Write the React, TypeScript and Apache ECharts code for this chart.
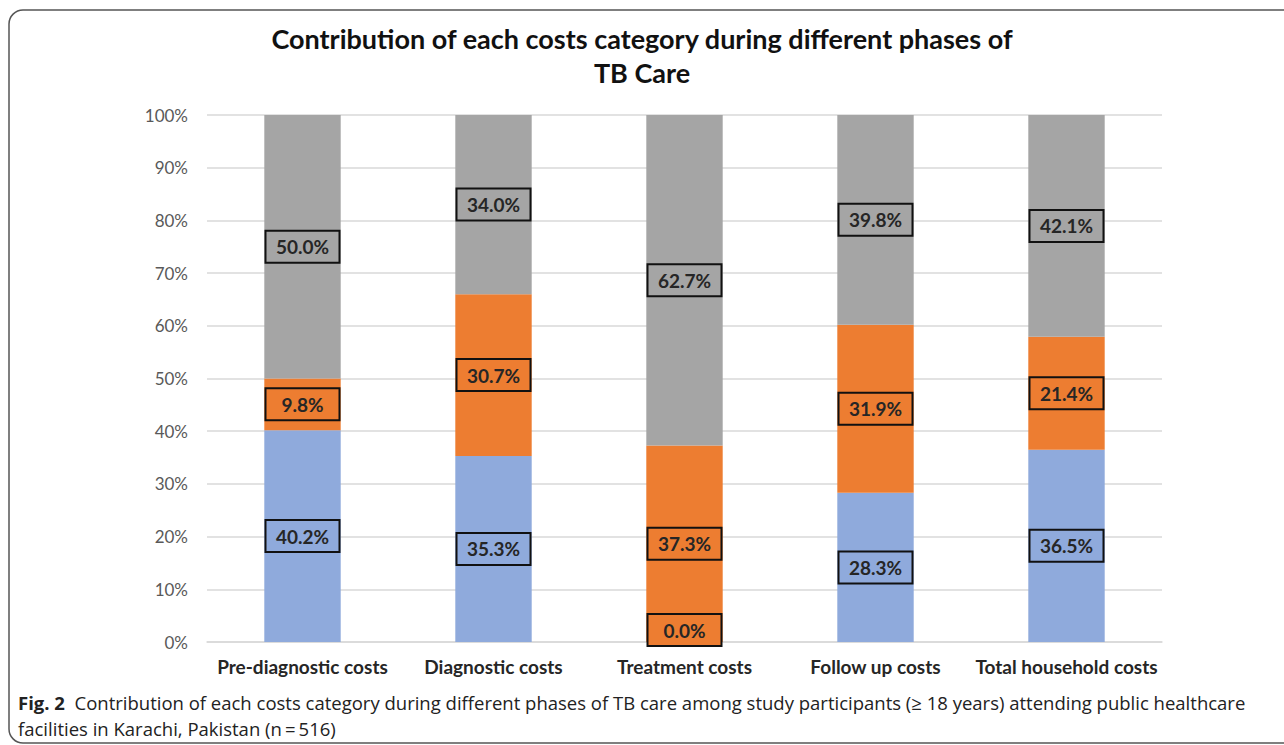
import React, { useEffect, useRef } from "react";
import * as echarts from "echarts";

const categories = [
  "Pre-diagnostic costs",
  "Diagnostic costs",
  "Treatment costs",
  "Follow up costs",
  "Total household costs",
];
const blueValues = [40.2, 35.3, 0.0, 28.3, 36.5];
const orangeValues = [9.8, 30.7, 37.3, 31.9, 21.4];
const grayValues = [50.0, 34.0, 62.7, 39.8, 42.1];
const yTicks = [0, 10, 20, 30, 40, 50, 60, 70, 80, 90, 100];

const titleText = "Contribution of each costs category during different phases of\nTB Care";
const captionLine1 =
  "Contribution of each costs category during different phases of TB care among study participants (\u2265 18 years) attending public healthcare";
const captionLine2 = "facilities in Karachi, Pakistan (n\u2009=\u2009516)";

const COLORS = { blue: "#8FAADC", orange: "#ED7D31", gray: "#A5A5A5" };

function makeLabel(color: string) {
  return {
    show: true,
    position: "inside",
    formatter: (p: any) => Number(p.value).toFixed(1) + "%",
    fontFamily: "Lato",
    fontWeight: "bold",
    fontSize: 19,
    color: "#262626",
    backgroundColor: color,
    borderColor: "#111",
    borderWidth: 2,
    width: 66,
    height: 22,
    lineHeight: 22,
    align: "center",
    verticalAlign: "middle",
    padding: [4, 3],
  };
}

export default function App() {
  const ref = useRef<HTMLDivElement>(null);
  useEffect(() => {
    if (!ref.current) return;
    const chart = echarts.init(ref.current, undefined, { renderer: "svg" });
    const mkSeries = (name: string, values: number[], color: string) => ({
      name,
      type: "bar",
      stack: "total",
      barWidth: "40%",
      itemStyle: { color },
      label: makeLabel(color),
      data: values.map((v) =>
        v === 0
          ? { value: v, label: { offset: [0, -12], backgroundColor: COLORS.orange } }
          : v
      ),
    });
    chart.setOption({
      animation: false,
      backgroundColor: "#fff",
      title: {
        text: titleText,
        left: "center",
        top: 16,
        textStyle: {
          fontFamily: "Lato",
          fontWeight: "bold",
          fontSize: 27,
          lineHeight: 34,
          color: "#111",
        },
      },
      grid: { left: 207, right: 122, top: 115, bottom: 103 },
      xAxis: {
        type: "category",
        data: categories,
        axisTick: { show: false },
        axisLine: { lineStyle: { color: "#D9D9D9", width: 1.5 } },
        axisLabel: {
          fontFamily: "Lato",
          fontWeight: "bold",
          fontSize: 19,
          color: "#262626",
          margin: 15,
          interval: 0,
        },
      },
      yAxis: {
        type: "value",
        min: yTicks[0],
        max: yTicks[yTicks.length - 1],
        interval: 10,
        axisLine: { show: false },
        axisTick: { show: false },
        splitLine: { lineStyle: { color: "#D9D9D9", width: 1.5 } },
        axisLabel: {
          fontFamily: "Lato",
          fontSize: 17,
          color: "#595959",
          margin: 19,
          formatter: (v: number) => v + "%",
        },
      },
      series: [
        mkSeries("Cost category 1", blueValues, COLORS.blue),
        mkSeries("Cost category 2", orangeValues, COLORS.orange),
        mkSeries("Cost category 3", grayValues, COLORS.gray),
      ],
      graphic: [
        {
          type: "rect",
          shape: { x: 9, y: 10, width: 1320, height: 733, r: 14 },
          style: { fill: "none", stroke: "#555", lineWidth: 1.5 },
          silent: true,
        },
        {
          type: "text",
          left: 18,
          top: 693,
          style: {
            text: "{b|Fig. 2}  " + captionLine1,
            font: "18.5px 'Open Sans'",
            fill: "#222",
            rich: {
              b: { fontFamily: "Open Sans", fontWeight: "bold", fontSize: 18.5, fill: "#222" },
            },
          },
        },
        {
          type: "text",
          left: 18,
          top: 719,
          style: {
            text: captionLine2,
            font: "18.5px 'Open Sans'",
            fill: "#222",
          },
        },
      ],
    });
    return () => chart.dispose();
  }, []);
  return (
    <div
      ref={ref}
      style={{ position: "fixed", left: 0, top: 0, width: 1284, height: 745 }}
    />
  );
}
